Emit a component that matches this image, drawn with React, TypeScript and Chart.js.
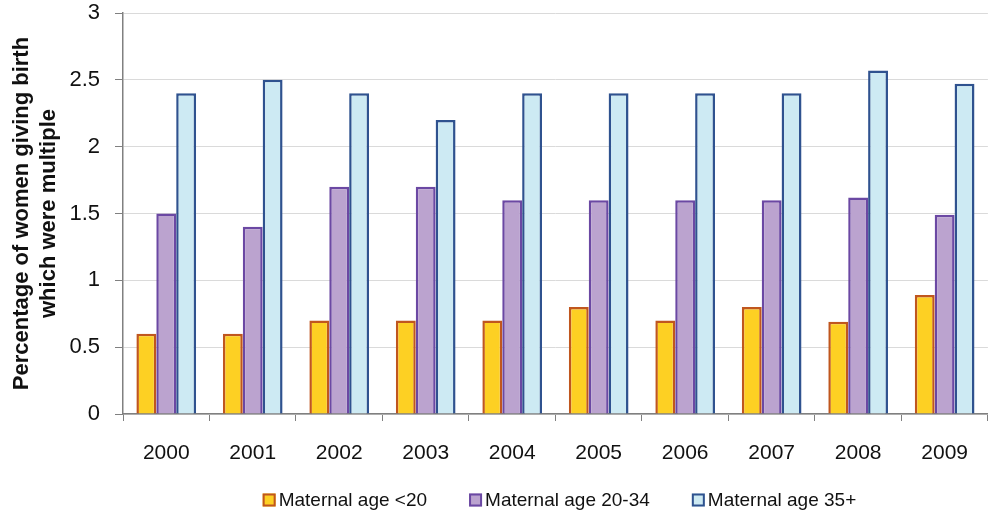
import React, { useEffect, useRef } from "react";
import { Chart, registerables } from "chart.js";

Chart.register(...registerables);

const years = ["2000", "2001", "2002", "2003", "2004", "2005", "2006", "2007", "2008", "2009"];
const under20 = [0.6, 0.6, 0.7, 0.7, 0.7, 0.8, 0.7, 0.8, 0.69, 0.89];
const age20to34 = [1.5, 1.4, 1.7, 1.7, 1.6, 1.6, 1.6, 1.6, 1.62, 1.49];
const age35plus = [2.4, 2.5, 2.4, 2.2, 2.4, 2.4, 2.4, 2.4, 2.57, 2.47];
const seriesLabels = ["Maternal age <20", "Maternal age 20-34", "Maternal age 35+"];
const yTitle = ["Percentage of women giving birth", "which were multiple"];

const FONT = "'Liberation Sans', Arial, Helvetica, sans-serif";

// Legend row drawn under the plot, centred on the chart area.
const bottomLegend = {
  id: "bottomLegend",
  afterDraw(chart: any) {
    const { ctx, chartArea } = chart;
    const box = 13;
    const textGap = 3;
    const itemGap = 42;
    const y = 500;
    ctx.save();
    ctx.font = `19px ${FONT}`;
    ctx.textBaseline = "middle";
    ctx.textAlign = "left";
    const items = chart.data.datasets.map((ds: any) => ({
      label: ds.label as string,
      fill: ds.backgroundColor as string,
      stroke: ds.borderColor as string,
      w: ctx.measureText(ds.label).width,
    }));
    const total =
      items.reduce((s: number, it: any) => s + box + textGap + it.w, 0) +
      itemGap * (items.length - 1);
    let x = (chartArea.left + chartArea.right) / 2 - total / 2 + 4;
    for (const it of items) {
      ctx.fillStyle = it.fill;
      ctx.fillRect(x, y - box / 2, box, box);
      ctx.strokeStyle = it.stroke;
      ctx.lineWidth = 2;
      ctx.strokeRect(x + 1, y - box / 2 + 1, box - 2, box - 2);
      ctx.fillStyle = "#111";
      ctx.fillText(it.label, x + box + textGap, y + 1);
      x += box + textGap + it.w + itemGap;
    }
    ctx.restore();
  },
};

export default function App() {
  const canvasRef = useRef<HTMLCanvasElement | null>(null);

  useEffect(() => {
    document.body.style.margin = "0";
    const canvas = canvasRef.current;
    if (!canvas) return;
    const chart = new Chart(canvas, {
      type: "bar",
      data: {
        labels: years,
        datasets: [
          {
            label: seriesLabels[0],
            data: under20,
            backgroundColor: "#FDD023",
            borderColor: "#C0561E",
            borderWidth: 2.5,
          },
          {
            label: seriesLabels[1],
            data: age20to34,
            backgroundColor: "#BBA3CF",
            borderColor: "#6B48A3",
            borderWidth: 2.5,
          },
          {
            label: seriesLabels[2],
            data: age35plus,
            backgroundColor: "#CDEAF3",
            borderColor: "#2F528F",
            borderWidth: 2.5,
          },
        ],
      },
      plugins: [bottomLegend],
      options: {
        responsive: false,
        animation: false,
        devicePixelRatio: 1,
        layout: { padding: { top: 2, right: 0, left: 0, bottom: 0 } },
        datasets: {
          bar: { categoryPercentage: 0.69, barPercentage: 1.0 },
        },
        plugins: {
          tooltip: { enabled: false },
          legend: { display: false },
        },
        scales: {
          x: {
            afterFit: (scale: any) => {
              scale.height = 101;
            },
            grid: {
              offset: true,
              drawOnChartArea: false,
              tickLength: 7,
              tickColor: "#808080",
            },
            border: { color: "#808080", width: 1.5 },
            ticks: {
              padding: 20,
              color: "#111",
              font: { family: FONT, size: 21 },
            },
          },
          y: {
            min: 0,
            max: 3,
            afterFit: (scale: any) => {
              scale.width = 123;
              scale.paddingTop = 13;
              scale.paddingBottom = 0;
            },
            grid: {
              color: "#dadada",
              tickColor: "#808080",
              tickLength: 8,
            },
            border: { color: "#808080", width: 1.5 },
            ticks: {
              stepSize: 0.5,
              padding: 15,
              color: "#111",
              font: { family: FONT, size: 22 },
              callback: (v: any) => String(Number(v)),
            },
            title: {
              display: true,
              text: yTitle,
              color: "#111",
              padding: { top: 9, bottom: 0 },
              font: { family: FONT, size: 22, weight: "bold" },
            },
          },
        },
      },
    });
    return () => chart.destroy();
  }, []);

  return (
    <div style={{ width: 988, height: 515, background: "#fff" }}>
      <canvas ref={canvasRef} width={988} height={515} />
    </div>
  );
}
